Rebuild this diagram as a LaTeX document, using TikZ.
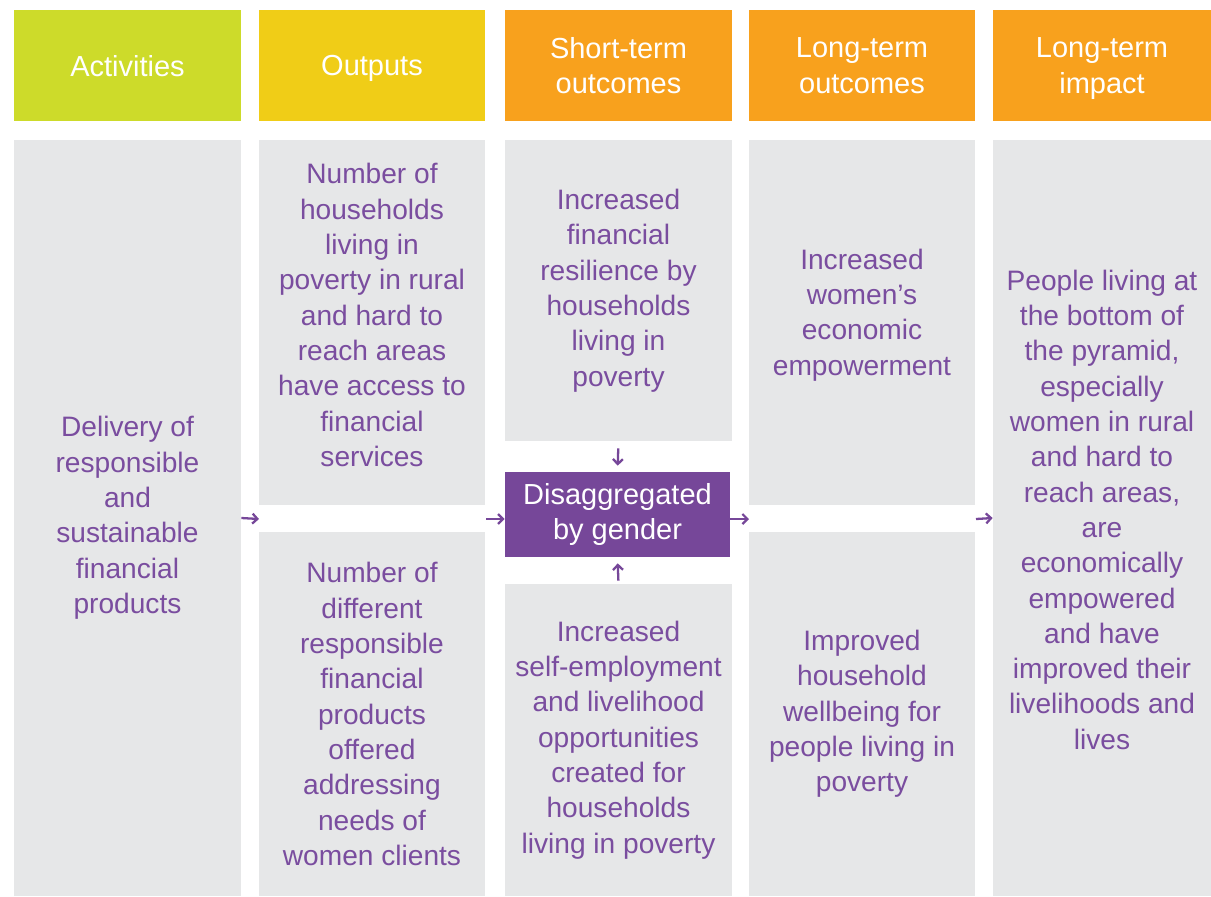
\documentclass[tikz,border=0pt]{standalone}
\usepackage{fontspec}
\setmainfont{Liberation Sans}
\usepackage{tikz}
\usetikzlibrary{arrows.meta}
\definecolor{actgreen}{HTML}{CDDB2A}
\definecolor{outyellow}{HTML}{F0CD17}
\definecolor{resorange}{HTML}{F8A11D}
\definecolor{boxgray}{HTML}{E6E7E8}
\definecolor{txtpurple}{HTML}{7A4D9F}
\definecolor{boxpurple}{HTML}{764799}

\begin{document}
\begin{tikzpicture}
    \tikzstyle{head}=[inner sep=0pt, minimum height=2.22cm, text=white, align=center,
        text depth=0pt, font=\fontsize{16.5}{20}\selectfont]
    \tikzstyle{cell}=[fill=boxgray, inner sep=0pt, text=txtpurple, align=center,
        font=\fontsize{16}{20.1}\selectfont]
    \tikzstyle{flow}=[line width=1.3pt, boxpurple, -{Straight Barb[length=1mm,width=2mm]}]

    \useasboundingbox (0,0) rectangle (24.22,-17.92);

    % headers
    \node[head, fill=actgreen, minimum width=4.54cm] (hact) at (2.55,-1.31) {Activities};
    \node[head, fill=outyellow, minimum width=4.52cm] (hout) at (7.44,-1.31) {Outputs};
    \node[head, fill=resorange, minimum width=4.54cm] (hst) at (12.37,-1.31) {Short-term\\outcomes};
    \node[head, fill=resorange, minimum width=4.52cm] (hlt) at (17.24,-1.31) {Long-term\\outcomes};
    \node[head, fill=resorange, minimum width=4.36cm] (himp) at (22.04,-1.31) {Long-term\\impact};

    % activities
    \node[cell, minimum width=4.54cm, minimum height=15.12cm] (act) at (2.55,-10.36)
        {Delivery of\\responsible\\and\\sustainable\\financial\\products};

    % outputs
    \node[cell, text depth=0.30cm, minimum width=4.52cm, minimum height=7.30cm] (out1) at (7.44,-6.45)
        {Number of\\households\\living in\\poverty in rural\\and hard to\\reach areas\\have access to\\financial\\services};
    \node[cell, minimum width=4.52cm, minimum height=7.28cm] (out2) at (7.44,-14.28)
        {Number of\\different\\responsible\\financial\\products\\offered\\addressing\\needs of\\women clients};

    % short-term outcomes
    \node[cell, minimum width=4.54cm, minimum height=6.02cm] (st1) at (12.37,-5.81)
        {Increased\\financial\\resilience by\\households\\living in\\poverty};
    \node[cell, fill=boxpurple, text=white, minimum width=4.50cm, minimum height=1.70cm,
        font=\fontsize{16.5}{19.9}\selectfont] (dis) at (12.35,-10.29)
        {Disaggregated\\by gender};
    \node[cell, minimum width=4.54cm, minimum height=6.24cm] (st2) at (12.37,-14.80)
        {Increased\\self-employment\\and livelihood\\opportunities\\created for\\households\\living in poverty};

    % long-term outcomes
    \node[cell, text depth=0.42cm, minimum width=4.52cm, minimum height=7.30cm] (lt1) at (17.24,-6.45)
        {Increased\\women’s\\economic\\empowerment};
    \node[cell, minimum width=4.52cm, minimum height=7.28cm] (lt2) at (17.24,-14.28)
        {Improved\\household\\wellbeing for\\people living in\\poverty};

    % impact
    \node[cell, text depth=0.34cm, minimum width=4.36cm, minimum height=15.12cm] (imp) at (22.04,-10.36)
        {People living at\\the bottom of\\the pyramid,\\especially\\women in rural\\and hard to\\reach areas,\\are\\economically\\empowered\\and have\\improved their\\livelihoods and\\lives};

    % gap points
    \coordinate (g1) at (5.18,-10.38);
    \coordinate (g2) at (9.72,-10.38);
    \coordinate (g3) at (14.98,-10.38);
    \coordinate (g4) at (19.52,-10.38);

    % arrows
    \draw[flow] (act.east) -- (g1);
    \draw[flow] (g2) -- (g2 -| dis.west);
    \draw[flow] (g3 -| dis.east) -- (g3);
    \draw[flow] (g4) -- (imp.west);
    \draw[flow, shorten <=0.14cm, shorten >=0.12cm] (st1.south) -- (dis.north);
    \draw[flow, shorten <=0.06cm, shorten >=0.12cm] (st2.north) -- (dis.south);

\end{tikzpicture}
\end{document}
